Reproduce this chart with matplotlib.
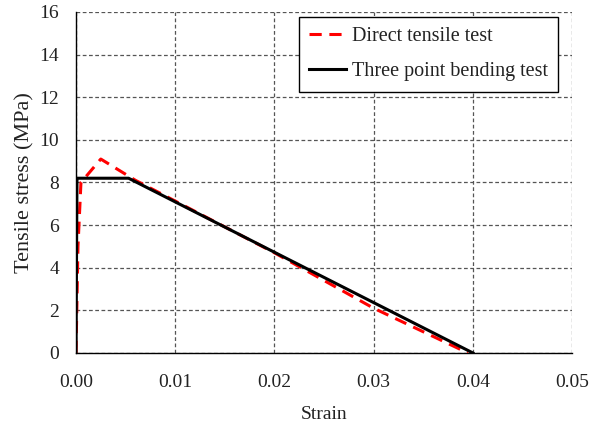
import matplotlib
matplotlib.use('Agg')
import matplotlib.pyplot as plt

# Direct tensile test (red dashed)
direct_strain = [0.0, 0.0002, 0.0005, 0.0025, 0.006, 0.02, 0.03, 0.0395]
direct_stress = [0.0, 5.0, 8.0, 9.1, 8.1, 4.7, 2.1, 0.0]

# Three point bending test (black)
bending_strain = [0.0, 0.0001, 0.0053, 0.04]
bending_stress = [0.0, 8.2, 8.2, 0.0]

x_ticks = [0.0, 0.01, 0.02, 0.03, 0.04, 0.05]
y_ticks = [0, 2, 4, 6, 8, 10, 12, 14, 16]

plt.rcParams['font.family'] = ['Liberation Serif', 'DejaVu Serif']

fig = plt.figure(figsize=(5.96, 4.24), dpi=100)
ax = fig.add_axes([0.1275, 0.1675, 0.8325, 0.8042])

ax.plot(direct_strain, direct_stress, color='#ff0000', linestyle=(0, (4, 2.5)), linewidth=2.2,
        label='Direct tensile test', zorder=3)
ax.plot(bending_strain, bending_stress, color='black', linewidth=2.2,
        label='Three point bending test', zorder=4)

ax.set_xlim(0, 0.05)
ax.set_ylim(0, 16)
ax.set_xticks(x_ticks)
ax.set_xticklabels([f'{v:.2f}' for v in x_ticks])
ax.set_yticks(y_ticks)
ax.tick_params(labelsize=14, direction='out', length=0, colors='#222222')
ax.tick_params(axis='x', pad=15)
ax.tick_params(axis='y', pad=12)

ax.grid(True, color='#555555', linestyle=(0, (3, 2)), linewidth=0.9)
ax.set_axisbelow(True)
for side in ['top', 'right']:
    ax.spines[side].set_visible(False)
for side in ['left', 'bottom']:
    ax.spines[side].set_color('black')
    ax.spines[side].set_linewidth(1.0)

ax.set_xlabel('Strain', fontsize=14, labelpad=11, color='#222222')
ax.set_ylabel('Tensile stress (MPa)', fontsize=16, labelpad=4, color='#222222')

leg = ax.legend(loc='upper right', bbox_to_anchor=(0.972, 0.985), borderaxespad=0,
                fontsize=14.5, frameon=True, fancybox=False, edgecolor='black', framealpha=1,
                handlelength=1.85, handletextpad=0.3, borderpad=0.5, labelspacing=0.8)
leg.get_frame().set_linewidth(1.0)
for t in leg.get_texts():
    t.set_color('#222222')

fig.savefig('out.png', dpi=100)
